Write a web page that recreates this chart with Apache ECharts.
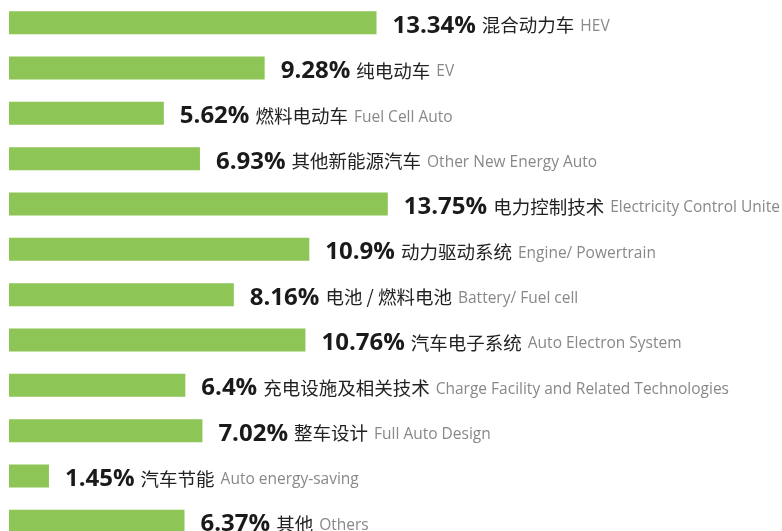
<!DOCTYPE html>
<html>
  <head>
    <meta charset="utf-8" />
    <title>ECharts</title>
    <script src="https://cdn.jsdelivr.net/npm/echarts@6/dist/echarts.min.js"></script>
    <style>
      html, body { margin: 0; padding: 0; background: #fff; }
    </style>
  </head>
  <body>
    <div id="main" style="width: 782px;height:531px;"></div>
    <script type="text/javascript">
        // 数据
        var values = [13.34, 9.28, 5.62, 6.93, 13.75, 10.9, 8.16, 10.76, 6.4, 7.02, 1.45, 6.37];
        var namesCn = ['混合动力车', '纯电动车', '燃料电动车', '其他新能源汽车', '电力控制技术', '动力驱动系统',
            '电池 / 燃料电池', '汽车电子系统', '充电设施及相关技术', '整车设计', '汽车节能', '其他'];
        var namesEn = ['HEV', 'EV', 'Fuel Cell Auto', 'Other New Energy Auto', 'Electricity Control Unite',
            'Engine/ Powertrain', 'Battery/ Fuel cell', 'Auto Electron System',
            'Charge Facility and Related Technologies', 'Full Auto Design', 'Auto energy-saving', 'Others'];

        var myChart = echarts.init(document.getElementById('main'));

        var option = {
            animation: false,
            grid: {
                left: 9,
                top: 0,
                width: 551,
                height: 544,
                outerBoundsMode: 'none'
            },
            xAxis: {
                type: 'value',
                min: 0,
                max: 20,
                show: false
            },
            yAxis: {
                type: 'category',
                inverse: true,
                data: namesCn,
                show: false
            },
            series: [{
                type: 'bar',
                barWidth: 23,
                itemStyle: { color: '#8dc556' },
                data: values,
                label: {
                    show: true,
                    position: 'right',
                    distance: 16,
                    offset: [0, 3],
                    formatter: function (p) {
                        return '{p|' + p.value + '%}{c|' + namesCn[p.dataIndex] + '}{e|' + namesEn[p.dataIndex] + '}';
                    },
                    rich: {
                        p: {
                            fontFamily: 'Open Sans',
                            fontWeight: 'bold',
                            fontSize: 24,
                            lineHeight: 20,
                            verticalAlign: 'bottom',
                            color: '#1a1a1a',
                            padding: [0, 6, 0, 0]
                        },
                        c: {
                            fontFamily: 'Noto Sans CJK SC',
                            fontSize: 18.5,
                            lineHeight: 24,
                            verticalAlign: 'bottom',
                            color: '#222',
                            padding: [0, 6, 3, 0]
                        },
                        e: {
                            fontFamily: 'Open Sans',
                            fontSize: 15.5,
                            lineHeight: 22,
                            verticalAlign: 'bottom',
                            color: '#888',
                            padding: [0, 0, 3, 0]
                        }
                    }
                }
            }]
        };

        myChart.setOption(option);
    </script>
  </body>
</html>
